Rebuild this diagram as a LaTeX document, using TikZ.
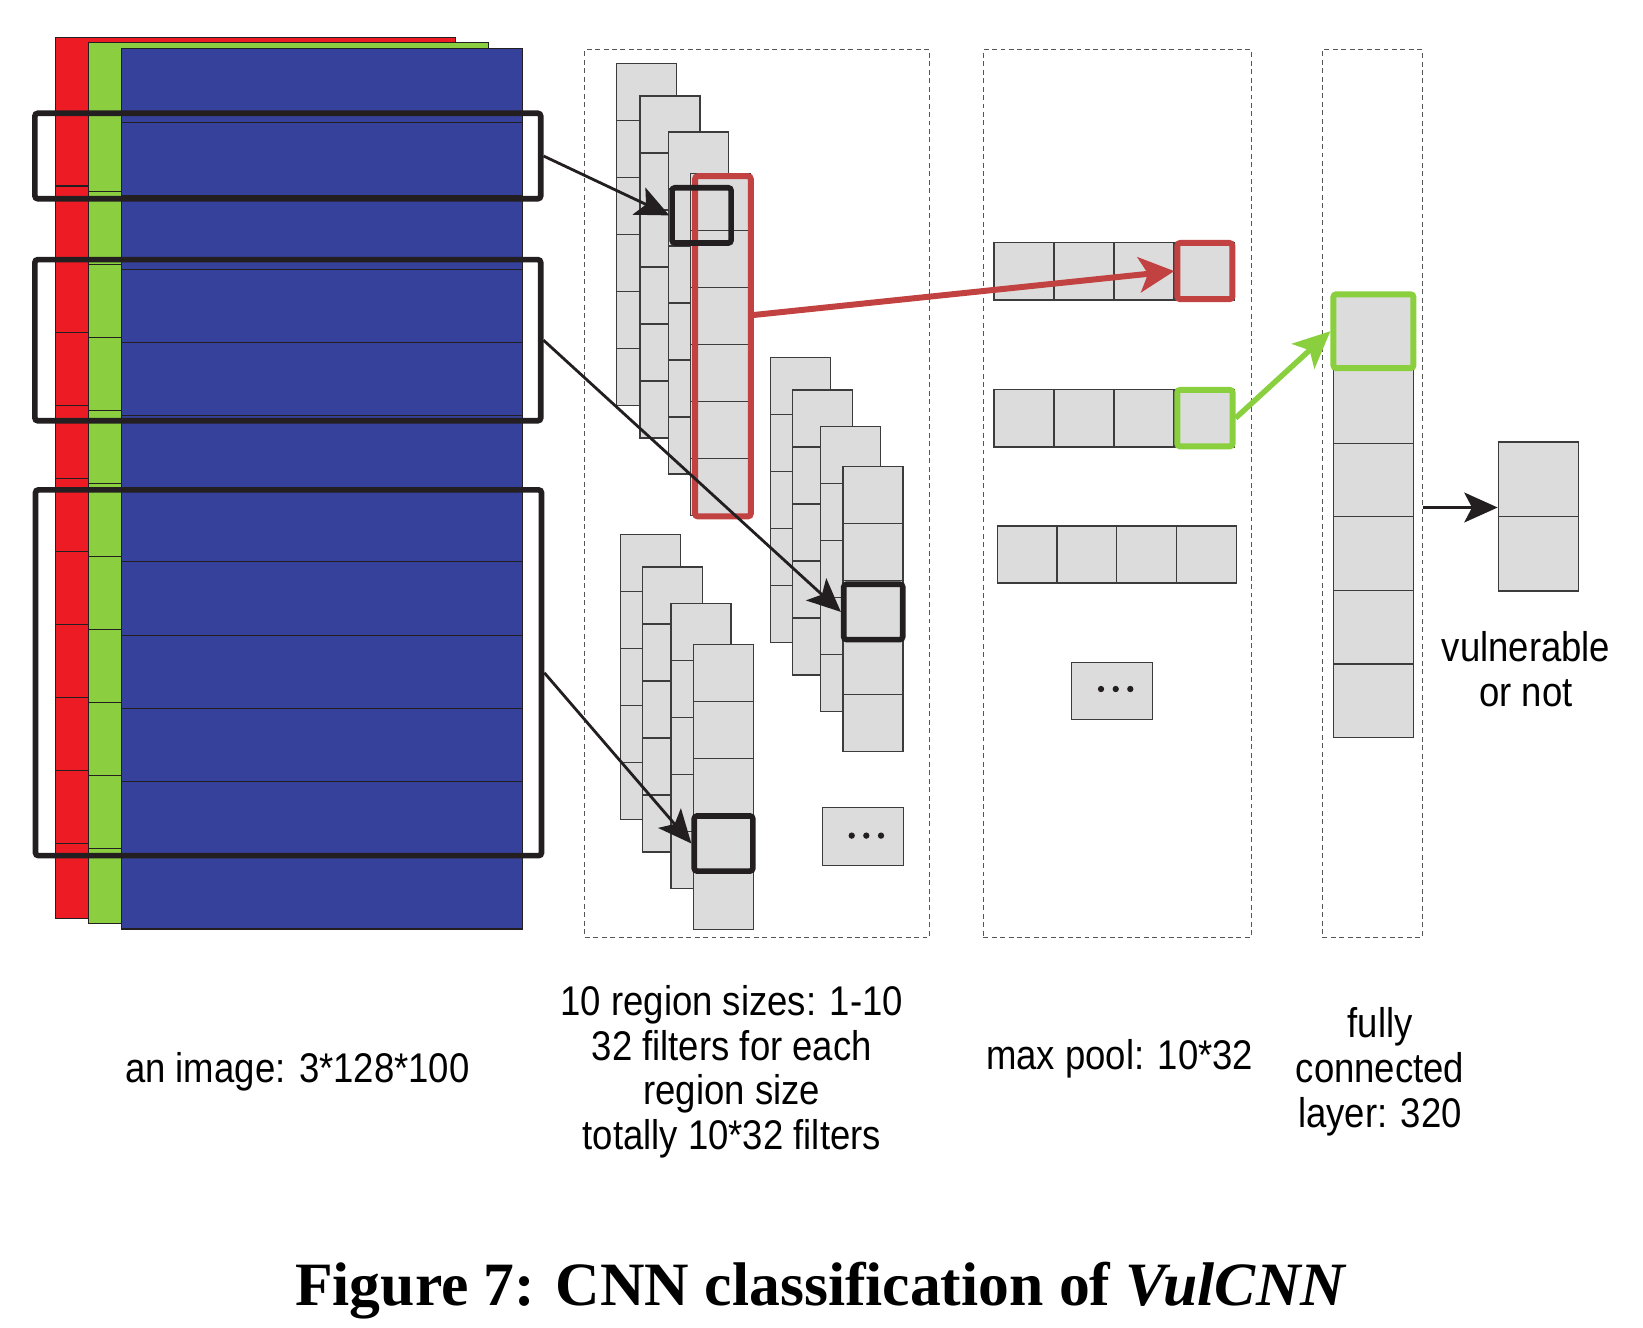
\documentclass[tikz,border=0pt]{standalone}
\usepackage{fontspec}
\setmainfont{Liberation Serif}
\newfontfamily\lblfont[FakeStretch=0.88]{Liberation Sans}
\usetikzlibrary{arrows.meta}

\definecolor{imgred}{HTML}{ED1C24}
\definecolor{imggreen}{HTML}{8BCF41}
\definecolor{imgblue}{HTML}{35419B}
\definecolor{cellgray}{HTML}{DCDCDC}
\definecolor{cellline}{HTML}{3C3C3C}
\definecolor{inkblack}{HTML}{231F20}
\definecolor{stagegray}{HTML}{555555}
\definecolor{hotred}{HTML}{C24141}
\definecolor{hotgreen}{HTML}{8AD03E}

\tikzset{
  cell/.style={fill=cellgray, draw=cellline, line width=0.35pt},
  layer/.style={draw=inkblack, line width=0.3pt},
  window/.style={draw=inkblack, line width=1.6pt, rounded corners=0.8pt, inner sep=0pt},
  hotbox/.style={line width=1.7pt, rounded corners=0.8pt, inner sep=0pt},
  stage/.style={draw=stagegray, dash pattern=on 1.4pt off 1pt, line width=0.3pt, inner sep=0pt},
  conn/.style={draw=inkblack, line width=0.8pt, -{Stealth[length=9.5pt,width=8.5pt,inset=2.2pt]}},
  lbl/.style={font=\lblfont\fontsize{11.8}{12.7}\selectfont, align=center, inner sep=0pt},
}

% one column of a feature map: x, top y, number of cells
\newcommand{\fmapcol}[3]{%
  \foreach \k in {1,...,#3}
    \filldraw[cell] (#1,{#2+(\k-1)*57}) rectangle ++(60,57);
}

\begin{document}
\begin{tikzpicture}[x=0.01cm, y=-0.01cm]
    \useasboundingbox (0,0) rectangle (1643,1327);

    % input image, three channels
    \filldraw[layer, fill=imgred] (55.4,37.3) rectangle (455.4,918.3);
    \foreach \k in {0,...,9}
        \draw[layer] (55.4,{186+73.1*\k}) -- (88.6,{186+73.1*\k});
    \filldraw[layer, fill=imggreen] (88.6,42.3) rectangle (488.2,923.3);
    \foreach \k in {0,...,9}
        \draw[layer] (88.6,{191.7+73*\k}) -- (121.4,{191.7+73*\k});
    \filldraw[layer, fill=imgblue] (121.4,48.3) rectangle (522.1,929);
    \foreach \k in {0,...,10}
        \draw[layer] (121.4,{122.7+73.2*\k}) -- (522.1,{122.7+73.2*\k});

    % stages
    \node[stage, minimum width=3.443cm, minimum height=8.87cm] (convbox) at (757.2,493.5) {};
    \node[stage, minimum width=2.677cm, minimum height=8.87cm] (poolbox) at (1117.2,493.5) {};
    \node[stage, minimum width=0.998cm, minimum height=8.87cm] (fcbox) at (1372.4,493.5) {};

    % convolution feature maps
    \fmapcol{616.7}{63.3}{6}
    \fmapcol{640}{96}{6}
    \fmapcol{668.3}{132}{6}
    \fmapcol{690.7}{173.3}{6}

    \fmapcol{770.3}{357.2}{5}
    \fmapcol{792.3}{390.1}{5}
    \fmapcol{820.3}{426.5}{5}
    \fmapcol{843}{466.7}{5}

    \fmapcol{620.7}{534.4}{5}
    \fmapcol{642.7}{567}{5}
    \fmapcol{671}{603.3}{5}
    \fmapcol{693.3}{644.2}{5}

    \filldraw[cell] (822.7,807.7) rectangle (903.3,865.5);
    \foreach \x in {851.7,866.3,881}
        \fill[inkblack] (\x,835.6) circle (0.9pt);

    \node[hotbox, draw=hotred, minimum width=0.557cm, minimum height=3.40cm] (convred) at (722.9,346.3) {};
    \node[window, minimum width=0.59cm, minimum height=0.552cm] (winA) at (701.6,215.4) {};
    \node[window, minimum width=0.59cm, minimum height=0.553cm] (winB) at (873.2,611.9) {};
    \node[window, minimum width=0.586cm, minimum height=0.551cm] (winC) at (723.5,843.5) {};

    % max pooling
    \foreach \k in {0,...,3} {
        \filldraw[cell] ({994+60*\k},242.7) rectangle ++(60,57.2);
        \filldraw[cell] ({994+60*\k},389.4) rectangle ++(60,57.5);
        \filldraw[cell] ({997.3+59.7*\k},526.1) rectangle ++(59.7,56.8);
    }
    \filldraw[cell] (1071.7,662.5) rectangle (1152.3,719.3);
    \foreach \x in {1101,1115.7,1130.3}
        \fill[inkblack] (\x,689) circle (0.9pt);
    \node[hotbox, draw=hotred, minimum width=0.55cm, minimum height=0.562cm] (poolred) at (1204.8,271.1) {};
    \node[hotbox, draw=hotgreen, minimum width=0.552cm, minimum height=0.565cm] (poolgreen) at (1204.9,418.1) {};

    % fully connected layer and output
    \foreach \k in {0,...,5}
        \filldraw[cell] (1333.3,{296+73.6*\k}) rectangle ++(80,73.6);
    \node[hotbox, draw=hotgreen, minimum width=0.80cm, minimum height=0.737cm] (fcgreen) at (1373.4,331.2) {};
    \node[cell, inner sep=0pt, minimum width=0.804cm, minimum height=1.49cm] (out) at (1538.5,516.5) {};
    \draw[cell] (out.west) -- (out.east);

    % windows on the image
    \node[window, minimum width=5.055cm, minimum height=0.854cm] (win1) at (287.8,156) {};
    \node[window, minimum width=5.055cm, minimum height=1.61cm] (win2) at (287.8,340.2) {};
    \node[window, minimum width=5.057cm, minimum height=3.655cm] (win3) at (288.5,672.75) {};

    % connections
    \draw[conn] (win1.east) -- (winA.west);
    \draw[conn] (win2.east) -- (winB.west);
    \draw[conn] (win3.east) -- (winC.west);
    \draw[draw=hotred, line width=1.7pt, -{Stealth[length=10pt,width=10pt,inset=2.5pt]}]
        ([yshift=0.313cm]convred.east) -- (poolred.west);
    \draw[draw=hotgreen, line width=1.55pt, -{Stealth[length=10.5pt,width=9.5pt,inset=2.5pt]}]
        (poolgreen.east) -- (fcgreen.west);
    \coordinate (outin) at ([yshift=0.09cm]out.west);
    \draw[conn] (fcbox.east |- outin) -- (outin);

    % labels (base = last line)
    \node[lbl, anchor=base] (imglbl) at (297.4,1082.5) {an image: 3*128*100};
    \node[lbl, anchor=base] (convlbl) at (731.8,1149.5) {10 region sizes: 1-10\\32 filters for each\\region size\\totally 10*32 filters};
    \node[lbl, anchor=base] (poollbl) at (1119.7,1069) {max pool: 10*32};
    \node[lbl, anchor=base] (fclbl) at (1380,1127) {fully\\connected\\layer: 320};
    \node[lbl, anchor=base] (outlbl) at (1526,706) {vulnerable\\or not};
    \node[anchor=base, inner sep=0pt] (caption) at (821,1305)
        {\resizebox{10.51cm}{!}{\bfseries Figure 7: CNN classification of \textit{VulCNN}}};
\end{tikzpicture}
\end{document}
